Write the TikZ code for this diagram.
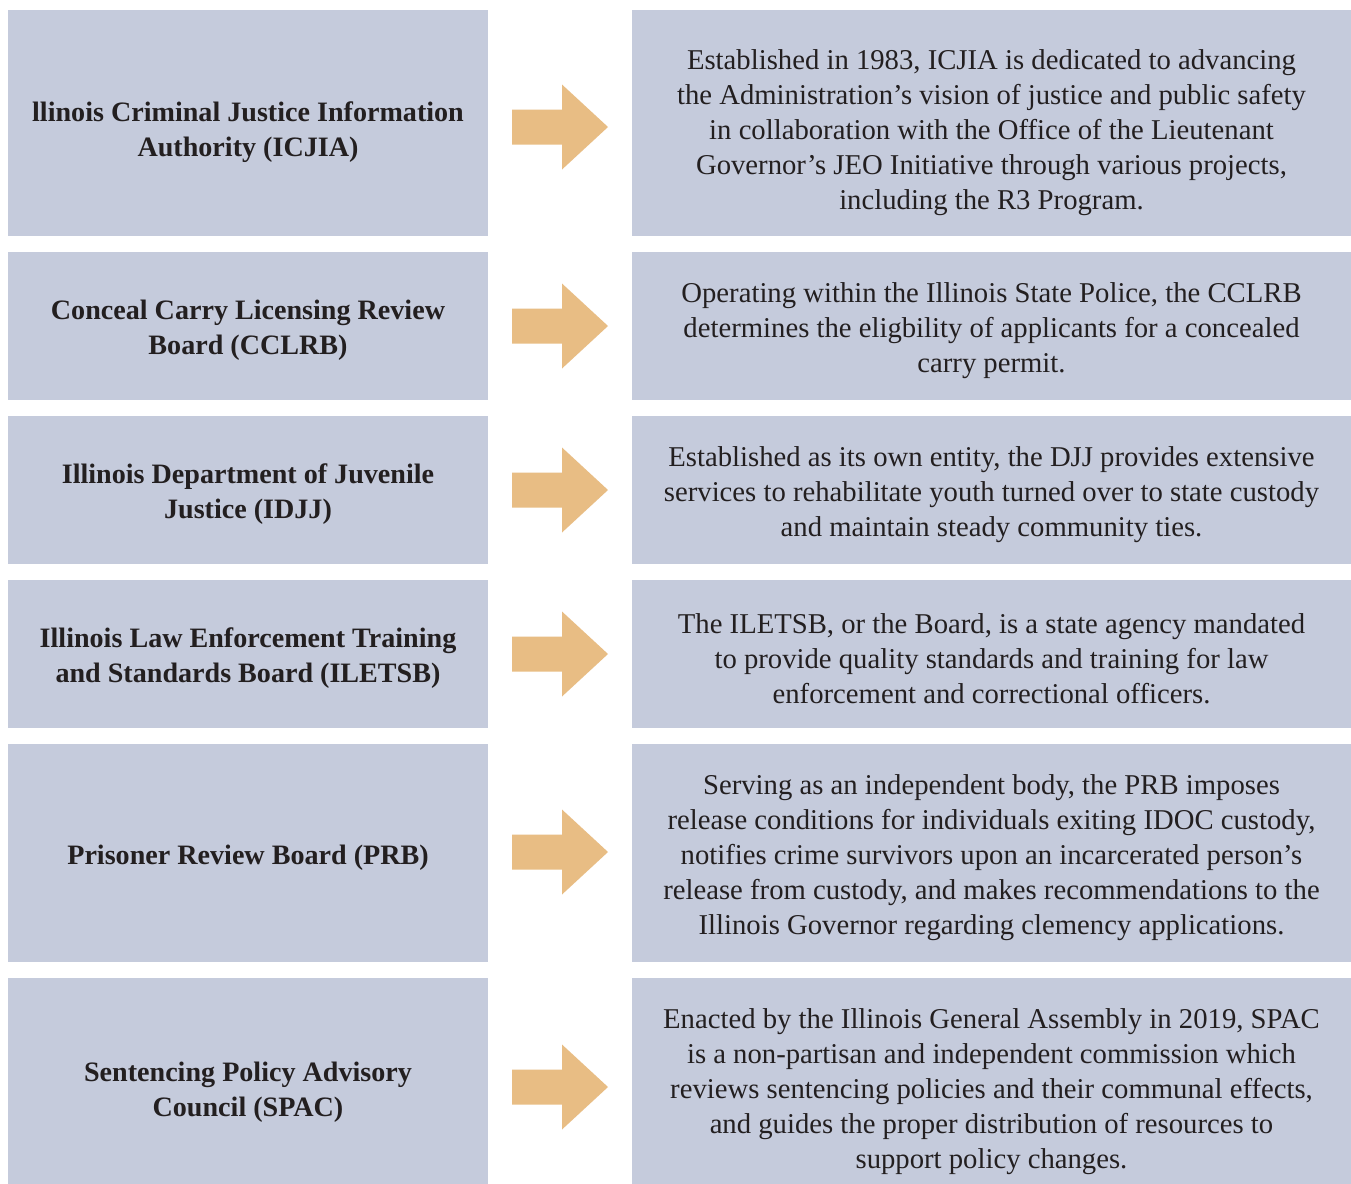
\documentclass[tikz,border=0pt]{standalone}
\usepackage{fontspec}
\setmainfont{Liberation Serif}
\definecolor{boxc}{RGB}{197,203,220}
\definecolor{arrc}{RGB}{232,189,132}
\definecolor{txtc}{RGB}{35,31,32}
\begin{document}
\begin{tikzpicture}[x=0.5pt,y=-0.5pt,
  lbox/.style={fill=boxc,inner sep=0pt,minimum width=240pt},
  rbox/.style={fill=boxc,inner sep=0pt,minimum width=359.5pt},
  ltext/.style={inner sep=0pt,align=center,text=txtc,
    font=\fontsize{14.05pt}{17.5pt}\selectfont\bfseries},
  rtext/.style={inner sep=0pt,align=center,text=txtc,
    font=\fontsize{14.35pt}{17.5pt}\selectfont},
  bigarrow/.style={fill=arrc}]
\clip (0,0) rectangle (1351,1184);
\fill[white] (0,0) rectangle (1351,1184);
% boxes
\node[lbox,minimum height=113pt] (l1) at (248,123) {};
\node[rbox,minimum height=113pt] (r1) at (991.5,123) {};
\node[lbox,minimum height=74pt] (l2) at (248,326) {};
\node[rbox,minimum height=74pt] (r2) at (991.5,326) {};
\node[lbox,minimum height=74pt] (l3) at (248,490) {};
\node[rbox,minimum height=74pt] (r3) at (991.5,490) {};
\node[lbox,minimum height=74pt] (l4) at (248,654) {};
\node[rbox,minimum height=74pt] (r4) at (991.5,654) {};
\node[lbox,minimum height=109pt] (l5) at (248,853) {};
\node[rbox,minimum height=109pt] (r5) at (991.5,853) {};
\node[lbox,minimum height=110pt] (l6) at (248,1088) {};
\node[rbox,minimum height=110pt] (r6) at (991.5,1088) {};
% texts
\node[ltext] (lt1) at (248,132.5) {llinois Criminal Justice Information\\Authority (ICJIA)};
\node[rtext] (rt1) at (991.5,132.5) {Established in 1983, ICJIA is dedicated to advancing\\the Administration’s vision of justice and public safety\\in collaboration with the Office of the Lieutenant\\Governor’s JEO Initiative through various projects,\\including the R3 Program.};
\node[ltext] (lt2) at (248,330.5) {Conceal Carry Licensing Review\\Board (CCLRB)};
\node[rtext] (rt2) at (991.5,330.5) {Operating within the Illinois State Police, the CCLRB\\determines the eligbility of applicants for a concealed\\carry permit.};
\node[ltext] (lt3) at (248,494.5) {Illinois Department of Juvenile\\Justice (IDJJ)};
\node[rtext] (rt3) at (991.5,494.5) {Established as its own entity, the DJJ provides extensive\\services to rehabilitate youth turned over to state custody\\and maintain steady community ties.};
\node[ltext] (lt4) at (248,658.5) {Illinois Law Enforcement Training\\and Standards Board (ILETSB)};
\node[rtext] (rt4) at (991.5,658.5) {The ILETSB, or the Board, is a state agency mandated\\to provide quality standards and training for law\\enforcement and correctional officers.};
\node[ltext] (lt5) at (248,857.5) {Prisoner Review Board (PRB)};
\node[rtext] (rt5) at (991.5,857.5) {Serving as an independent body, the PRB imposes\\release conditions for individuals exiting IDOC custody,\\notifies crime survivors upon an incarcerated person’s\\release from custody, and makes recommendations to the\\Illinois Governor regarding clemency applications.};
\node[ltext] (lt6) at (248,1092) {Sentencing Policy Advisory\\Council (SPAC)};
\node[rtext] (rt6) at (991.5,1092) {Enacted by the Illinois General Assembly in 2019, SPAC\\is a non-partisan and independent commission which\\reviews sentencing policies and their communal effects,\\and guides the proper distribution of resources to\\support policy changes.};
% arrows
\foreach \yc in {127,326,490,654,852,1087}{
  \fill[bigarrow] (512,\yc-17.5) -- (562,\yc-17.5) -- (562,\yc-42.5) -- (608,\yc)
    -- (562,\yc+42.5) -- (562,\yc+17.5) -- (512,\yc+17.5) -- cycle;
}
\end{tikzpicture}
\end{document}
